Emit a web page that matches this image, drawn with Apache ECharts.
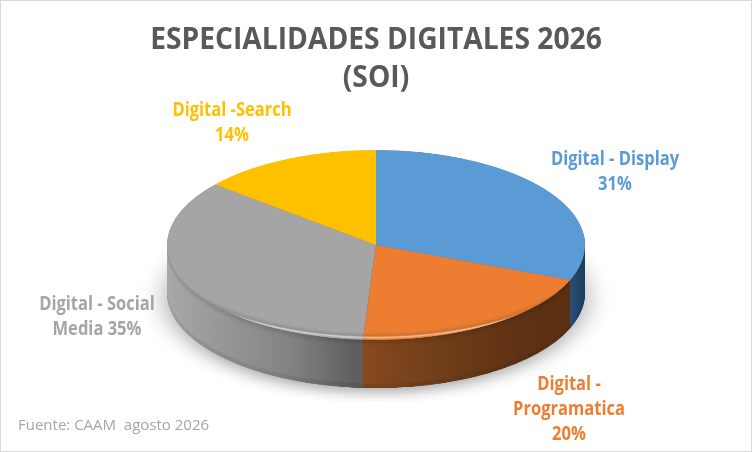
<!DOCTYPE html>
<html>
<head>
<meta charset="utf-8">
<script src="https://cdn.jsdelivr.net/npm/echarts@6/dist/echarts.min.js"></script>
<style>
html, body { margin: 0; padding: 0; background: #fff; }
#wrap { position: relative; width: 752px; height: 452px; overflow: hidden; }
#pie { position: absolute; left: 0; top: 145px; width: 752px; height: 565px; transform: scaleY(0.4545); transform-origin: 0 0; }
#text { position: absolute; left: 0; top: 0; width: 752px; height: 452px; }
#frame { position: absolute; left: 0; top: 0; width: 752px; height: 452px; box-sizing: border-box; border: 1px solid #d9d9d9; pointer-events: none; }
</style>
</head>
<body>
<div id="wrap">
	<div id="pie"></div>
	<div id="text"></div>
	<div id="frame"></div>
</div>
<script>
var names = ['Digital - Display', 'Digital - Programatica', 'Digital - Social Media', 'Digital -Search'];
var values = [31, 20, 35, 14];
var titleLines = ['ESPECIALIDADES DIGITALES 2026', '(SOI)'];
var sourceText = 'Fuente: CAAM  agosto 2026';
// label text as it wraps in the picture
var labelNames = ['Digital - Display', 'Digital -\nProgramatica', 'Digital - Social\nMedia', 'Digital -Search'];
var labelSep = ['\n', '\n', ' ', '\n'];

var topColors = ['#5b9bd5', '#ed7d31', '#a5a5a5', '#ffc000'];
var labelColors = ['#5b9bd5', '#ed7d31', '#a5a5a5', '#ffc000'];

// pie geometry (unscaled canvas coords, squashed by css)
var cx = 376, cyU = 220, R = 209, depthU = 106;
var xL = cx - R, xR = cx + R;

// side shading stops per slice: [x, color]
var sideStops = [
	[[560, '#335f8c'], [585, '#1c3c5e']],
	[[355, '#8c4a1e'], [430, '#72401a'], [520, '#5e3214'], [585, '#5a2e10']],
	[[167, '#a8a8a8'], [290, '#838383'], [355, '#5f5f5f']],
	[[167, '#b08600'], [585, '#b08600']]
];

function darken(hex, f) {
	var n = parseInt(hex.slice(1), 16);
	var r = Math.round(((n >> 16) & 255) * f), g = Math.round(((n >> 8) & 255) * f), b = Math.round((n & 255) * f);
	return 'rgb(' + r + ',' + g + ',' + b + ')';
}

function grad(stops, f) {
	return {
		type: 'linear', x: xL, y: 0, x2: xR, y2: 0, global: true,
		colorStops: stops.map(function(s) {
			return { offset: Math.min(1, Math.max(0, (s[0] - xL) / (xR - xL))), color: darken(s[1], f) };
		})
	};
}

function pieLayer(d, colors, extra) {
	var s = {
		type: 'pie', silent: true, animation: false,
		startAngle: 90, clockwise: true,
		center: [cx, cyU + d], radius: R,
		label: { show: false }, labelLine: { show: false },
		itemStyle: {},
		data: values.map(function(v, i) {
			return { value: v, name: names[i], itemStyle: { color: colors[i] } };
		})
	};
	if (extra) {
		for (var key in extra) s[key] = extra[key];
	}
	return s;
}

var series = [];
for (var d = depthU; d > 0; d -= 2) {
	// a little darker right under the rim and at the very bottom
	var f = d < 16 ? 0.86 + d * 0.009 : (d > depthU - 10 ? 0.93 : 1);
	var colors = sideStops.map(function(st) { return grad(st, f); });
	var ex = null;
	if (d === depthU) ex = { itemStyle: { shadowBlur: 28, shadowColor: 'rgba(0,0,0,0.35)', shadowOffsetY: 10 } };
	series.push(pieLayer(d, colors, ex));
}
series.push(pieLayer(0, topColors));
// bevel on the front rim of the top face
var g = 30;
var bevel = {
	type: 'radial', x: cx, y: cyU - g, r: R + g, global: true,
	colorStops: [
		{ offset: 0.93, color: 'rgba(0,0,0,0)' },
		{ offset: 0.955, color: 'rgba(0,0,0,0.08)' },
		{ offset: 0.975, color: 'rgba(255,255,255,0.5)' },
		{ offset: 0.99, color: 'rgba(255,255,255,0.1)' },
		{ offset: 1, color: 'rgba(0,0,0,0)' }
	]
};
series.push({
	type: 'pie', silent: true, animation: false,
	startAngle: 90, clockwise: true,
	center: [cx, cyU], radius: [R - 20, R],
	label: { show: false }, labelLine: { show: false },
	itemStyle: { color: bevel },
	data: values.slice()
});

echarts.init(document.getElementById('pie')).setOption({ series: series });

// texts
var font = "'Open Sans', 'Noto Sans', sans-serif";
var total = values.reduce(function(a, b) { return a + b; }, 0);
var labelPos = [[615, 172], [569, 410], [97, 317], [232, 123]];

function txt(str, x, y, size, weight, color, sx, lh, align) {
	return {
		type: 'text', x: x, y: y, scaleX: sx, silent: true,
		style: {
			text: str, x: 0, y: 0,
			textAlign: align || 'center', textVerticalAlign: 'middle',
			fontFamily: font, fontSize: size, fontWeight: weight,
			lineHeight: lh, fill: color
		}
	};
}

var elements = [
	txt(titleLines.join('\n'), 376, 59, 30, 'bold', '#595959', 0.94, 38),
	txt(sourceText, 18, 426, 15, 'normal', '#a6a6a6', 1, 18, 'left')
];
for (var i = 0; i < values.length; i++) {
	var pct = Math.round(values[i] / total * 100) + '%';
	elements.push(txt(labelNames[i] + labelSep[i] + pct, labelPos[i][0], labelPos[i][1], 19, 'bold', labelColors[i], 0.87, 25));
}

echarts.init(document.getElementById('text')).setOption({ graphic: { elements: elements } });
</script>
</body>
</html>
